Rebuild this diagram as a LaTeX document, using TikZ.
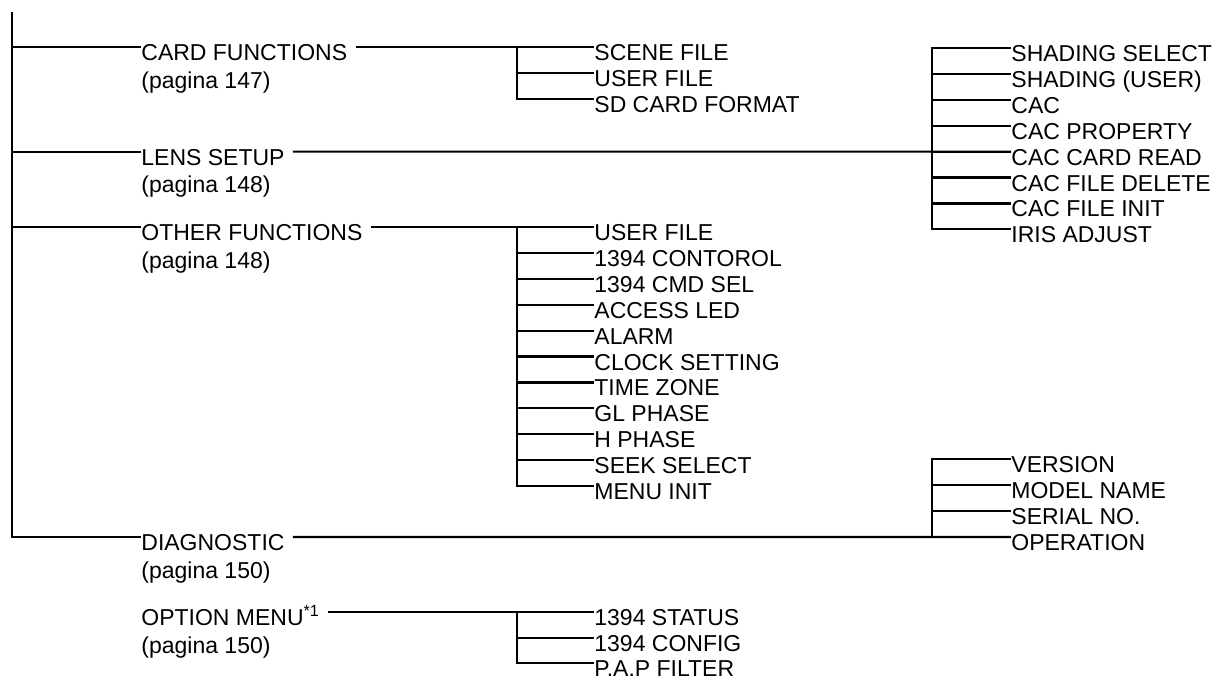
\documentclass[tikz,border=0pt]{standalone}
\usepackage{fontspec}
\setmainfont{Liberation Sans}
\usepackage{tikz}

\begin{document}
\begin{tikzpicture}[
    x=0.5pt, y=-0.5pt,
    every node/.style={font=\fontsize{11.5}{13.3}\selectfont},
    item/.style={anchor=west, inner sep=0pt, text height=13.5pt, text depth=0pt},
    pg/.style={item, anchor=north west},
    tree/.style={line width=1.1pt}
]
\useasboundingbox (0,0) rectangle (1218,680);

% bracket columns
\coordinate (top) at (12,12);
\coordinate (midbr) at (517,0);
\coordinate (farbr) at (932,0);

% main menu entries
\node[item] (card)  at (141,47)    {CARD FUNCTIONS};
\node[pg]   (cardpg)  at (card.south west)  {(pagina 147)};
\node[item] (lens)  at (141,151.6) {LENS SETUP};
\node[pg]   (lenspg)  at (lens.south west)  {(pagina 148)};
\node[item] (other) at (141,227)   {OTHER FUNCTIONS};
\node[pg]   (otherpg) at (other.south west) {(pagina 148)};
\node[item] (diag)  at (141,537)   {DIAGNOSTIC};
\node[pg]   (diagpg)  at (diag.south west)  {(pagina 150)};
\node[item] (opt)   at (141,612)   {OPTION MENU\textsuperscript{*1}};
\node[pg]   (optpg)   at (opt.south west)   {(pagina 150)};

% spine
\draw[tree] (top) |- (diag.west);
\foreach \m in {card,lens,other}
  \draw[tree] (\m.west -| top) -- (\m.west);

% card functions
\foreach \n/\t [count=\k from 0] in {sf/SCENE FILE,uf/USER FILE,sdf/SD CARD FORMAT} {
  \node[item] (\n) at (594,47+25.9*\k) {\t};
  \draw[tree] (\n.west -| midbr) -- (\n.west);
}
\draw[tree] ([xshift=4pt]card.east) -- (sf.west);
\draw[tree] (sf.west -| midbr) |- (sdf.west);

% lens setup
\foreach \n/\t [count=\k from 0] in {ss/SHADING SELECT,su/SHADING (USER),cac/CAC,
    cp/CAC PROPERTY,ccr/CAC CARD READ,cfd/CAC FILE DELETE,cfi/CAC FILE INIT,ia/IRIS ADJUST} {
  \node[item] (\n) at (1011,48+25.9*\k) {\t};
  \draw[tree] (\n.west -| farbr) -- (\n.west);
}
\draw[tree] ([xshift=4pt]lens.east) -- (ccr.west);
\draw[tree] (ss.west) -| (farbr |- cp.west) |- (ia.west);

% other functions
\foreach \n/\t [count=\k from 0] in {ouf/USER FILE,ctl/1394 CONTOROL,cmd/1394 CMD SEL,
    led/ACCESS LED,alm/ALARM,clk/CLOCK SETTING,tz/TIME ZONE,gl/GL PHASE,
    hp/H PHASE,sk/SEEK SELECT,mi/MENU INIT} {
  \node[item] (\n) at (594,227+25.9*\k) {\t};
  \draw[tree] (\n.west -| midbr) -- (\n.west);
}
\draw[tree] ([xshift=4pt]other.east) -- (ouf.west);
\draw[tree] (ouf.west -| midbr) |- (mi.west);

% diagnostic
\foreach \n/\t [count=\k from 0] in {ver/VERSION,mn/MODEL NAME,sn/SERIAL NO.,op/OPERATION} {
  \node[item] (\n) at (1011,459.3+25.9*\k) {\t};
  \draw[tree] (\n.west -| farbr) -- (\n.west);
}
\draw[tree] ([xshift=4pt]diag.east) -- (op.west);
\draw[tree] (ver.west) -| (farbr |- sn.west) |- (op.west);

% option menu
\foreach \n/\t [count=\k from 0] in {st/1394 STATUS,cfg/1394 CONFIG,paf/P.A.P FILTER} {
  \node[item] (\n) at (594,612+25.6*\k) {\t};
  \draw[tree] (\n.west -| midbr) -- (\n.west);
}
\draw[tree] ([xshift=4pt]opt.east) -- (st.west);
\draw[tree] (st.west -| midbr) |- (paf.west);
\end{tikzpicture}
\end{document}
